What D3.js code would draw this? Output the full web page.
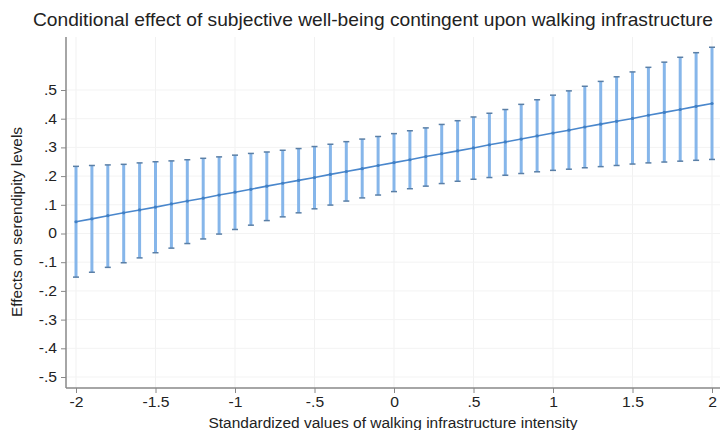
<!DOCTYPE html>
<html><head><meta charset="utf-8">
<script src="https://cdn.jsdelivr.net/npm/d3@7"></script>
<style>body{margin:0;background:#fff}svg{display:block}text{font-family:"Liberation Sans",Arial,sans-serif;fill:#222}
.xt text{transform-box:fill-box;transform-origin:center;transform:scaleX(1.12)}
.yt text{transform-box:fill-box;transform-origin:right center;transform:scaleX(1.12)}
</style>
</head><body><svg id="c" width="720" height="430"></svg>
<script>
const xValues = [-2.0,-1.9,-1.8,-1.7,-1.6,-1.5,-1.4,-1.3,-1.2,-1.1,-1.0,-0.9,-0.8,-0.7,-0.6,-0.5,-0.4,-0.3,-0.2,-0.1,0.0,0.1,0.2,0.3,0.4,0.5,0.6,0.7,0.8,0.9,1.0,1.1,1.2,1.3,1.4,1.5,1.6,1.7,1.8,1.9,2.0];
const effect = [0.041,0.051,0.062,0.072,0.082,0.092,0.103,0.113,0.123,0.134,0.144,0.154,0.165,0.175,0.185,0.195,0.206,0.216,0.226,0.237,0.247,0.257,0.268,0.278,0.288,0.298,0.309,0.319,0.329,0.340,0.350,0.360,0.371,0.381,0.391,0.401,0.412,0.422,0.432,0.443,0.453];
const upper = [0.234,0.237,0.239,0.241,0.246,0.250,0.253,0.257,0.262,0.267,0.273,0.279,0.284,0.290,0.296,0.303,0.311,0.320,0.329,0.338,0.348,0.358,0.368,0.380,0.393,0.406,0.419,0.432,0.450,0.466,0.482,0.497,0.513,0.530,0.546,0.563,0.579,0.597,0.614,0.630,0.649];
const lower = [-0.152,-0.135,-0.118,-0.102,-0.085,-0.067,-0.051,-0.035,-0.019,-0.002,0.014,0.029,0.045,0.058,0.072,0.086,0.099,0.113,0.124,0.134,0.146,0.156,0.165,0.174,0.182,0.189,0.195,0.203,0.209,0.215,0.220,0.224,0.229,0.233,0.237,0.242,0.246,0.249,0.252,0.255,0.258];
const xTicks = [-2,-1.5,-1,-0.5,0,0.5,1,1.5,2];
const xTickLabels = ["-2","-1.5","-1","-.5","0",".5","1","1.5","2"];
const yTicks = [-0.5,-0.4,-0.3,-0.2,-0.1,0,0.1,0.2,0.3,0.4,0.5];
const yTickLabels = ["-.5","-.4","-.3","-.2","-.1","0",".1",".2",".3",".4",".5"];
const titleText = "Conditional effect of subjective well-being contingent upon walking infrastructure";
const xTitle = "Standardized values of walking infrastructure intensity";
const yTitle = "Effects on serendipity levels";

const svg = d3.select("#c");
const x = d3.scaleLinear().domain([-2,2]).range([76,712]);
const y = d3.scaleLinear().domain([-0.5,0.5]).range([377,90]);
const axisX = 66, axisY = 388;

// grid
const g = svg.append("g");
g.selectAll(".vg").data(xTicks).join("line")
  .attr("x1",d=>x(d)).attr("x2",d=>x(d)).attr("y1",37).attr("y2",axisY)
  .attr("stroke","#f1f1f1").attr("stroke-width",1);
g.selectAll(".hg").data(yTicks).join("line")
  .attr("x1",axisX).attr("x2",720).attr("y1",d=>y(d)).attr("y2",d=>y(d))
  .attr("stroke","#f3f3f3").attr("stroke-width",1);

// axes
const xa = svg.append("g").attr("class","xt").attr("transform",`translate(0,${axisY})`)
  .call(d3.axisBottom(x).tickValues(xTicks).tickFormat((d,i)=>xTickLabels[i]).tickSize(5).tickPadding(4).tickSizeOuter(0));
xa.select(".domain").attr("d",`M${axisX},0H720`).attr("stroke","#888").attr("stroke-width",1.5);
xa.selectAll(".tick line").attr("stroke","#888");
xa.selectAll(".tick text").attr("font-size",14).style("font-family","'Liberation Sans',Arial,sans-serif").attr("fill","#222");

const ya = svg.append("g").attr("class","yt").attr("transform",`translate(${axisX},0)`)
  .call(d3.axisLeft(y).tickValues(yTicks).tickFormat((d,i)=>yTickLabels[i]).tickSize(5).tickPadding(4).tickSizeOuter(0));
ya.select(".domain").attr("d",`M0,37V${axisY}`).attr("stroke","#888").attr("stroke-width",1.5);
ya.selectAll(".tick line").attr("stroke","#888");
ya.selectAll(".tick text").attr("font-size",14).style("font-family","'Liberation Sans',Arial,sans-serif").attr("fill","#222");

// error bars
const idx = d3.range(xValues.length);
const eb = svg.append("g");
eb.selectAll(".bar").data(idx).join("line")
  .attr("x1",i=>x(xValues[i])).attr("x2",i=>x(xValues[i]))
  .attr("y1",i=>y(upper[i])).attr("y2",i=>y(lower[i]))
  .attr("stroke","#86b6ea").attr("stroke-width",3);
eb.selectAll(".capU").data(idx).join("line")
  .attr("x1",i=>x(xValues[i])-3).attr("x2",i=>x(xValues[i])+3)
  .attr("y1",i=>y(upper[i])).attr("y2",i=>y(upper[i]))
  .attr("stroke","#5a7fa6").attr("stroke-width",1.5);
eb.selectAll(".capL").data(idx).join("line")
  .attr("x1",i=>x(xValues[i])-3).attr("x2",i=>x(xValues[i])+3)
  .attr("y1",i=>y(lower[i])).attr("y2",i=>y(lower[i]))
  .attr("stroke","#5a7fa6").attr("stroke-width",1.5);

// effect line
const line = d3.line().x(i=>x(xValues[i])).y(i=>y(effect[i]));
svg.append("path").datum(idx).attr("d",line).attr("fill","none")
  .attr("stroke","#4a87cc").attr("stroke-width",1.6);
svg.append("g").selectAll("circle").data(idx).join("circle")
  .attr("cx",i=>x(xValues[i])).attr("cy",i=>y(effect[i])).attr("r",1.6)
  .attr("fill","#3f7fc4");

// titles
svg.append("text").attr("x",373).attr("y",26).attr("text-anchor","middle")
  .attr("font-size",19).attr("textLength",680).attr("lengthAdjust","spacingAndGlyphs").text(titleText);
svg.append("text").attr("x",393).attr("y",428).attr("text-anchor","middle")
  .attr("font-size",14).attr("textLength",369).attr("lengthAdjust","spacingAndGlyphs").text(xTitle);
svg.append("text").attr("transform","translate(22,222) rotate(-90)").attr("text-anchor","middle")
  .attr("font-size",14).attr("textLength",190).attr("lengthAdjust","spacingAndGlyphs").text(yTitle);
</script></body></html>
